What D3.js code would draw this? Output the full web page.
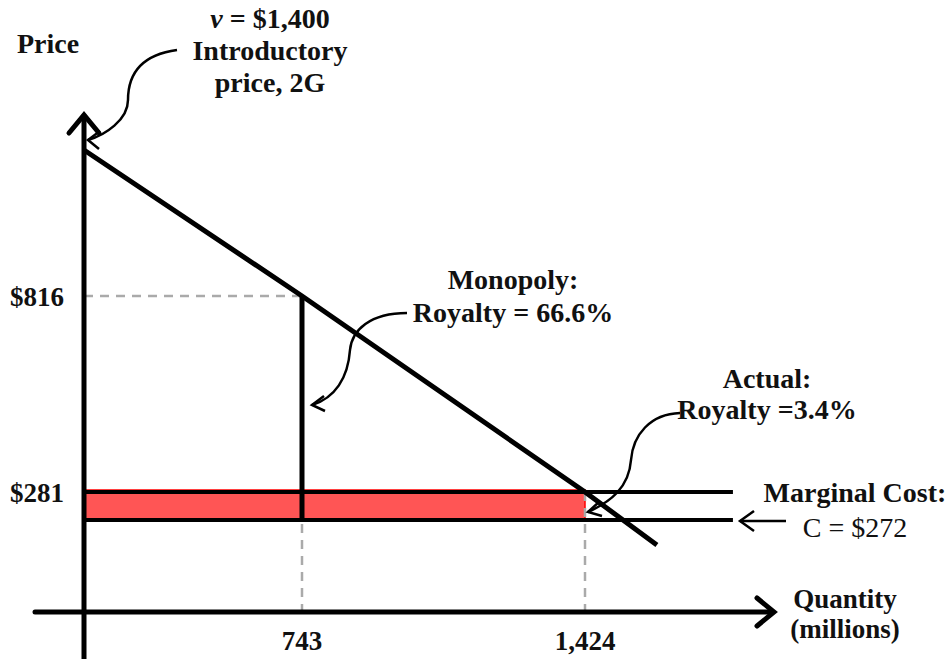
<!DOCTYPE html>
<html>
<head>
<meta charset="utf-8">
<script src="https://cdn.jsdelivr.net/npm/d3@7"></script>
<style>
  body { margin: 0; background: #fff; }
  text { font-family: "Liberation Serif", "DejaVu Serif", serif; fill: #111; }
</style>
</head>
<body>
<div id="chart"></div>
<script>
// chart values
const demandQty = [0, 743, 1424, 1597];
const demandPrice = [1400, 816, 281, 198];
const monopolyQty = 743;
const monopolyPrice = 816;
const actualQty = 1424;
const actualPrice = 281;
const marginalCost = 272;
const costLineEnd = 1780;
const priceTicks = ["$816", "$281"];
const qtyTicks = ["743", "1,424"];

const width = 950, height = 659;

const svg = d3.select("#chart").append("svg")
  .attr("width", width)
  .attr("height", height);

// schematic (piecewise) scales, as in the drawing
const x = d3.scaleLinear()
  .domain([0, monopolyQty, actualQty])
  .range([84, 302, 585]);
const y = d3.scaleLinear()
  .domain([0, marginalCost, actualPrice, monopolyPrice, 1400])
  .range([612, 520, 492, 296, 150]);

// royalty band
svg.append("rect")
  .attr("x", x(0))
  .attr("y", y(actualPrice) - 2)
  .attr("width", x(actualQty) - x(0))
  .attr("height", y(marginalCost) - y(actualPrice) + 2)
  .attr("fill", "#ff5555")
  .attr("stroke", "#ff0000")
  .attr("stroke-width", 1.5);

// dashed guides
const dash = svg.append("g")
  .attr("stroke", "#aaa")
  .attr("stroke-width", 2.5)
  .attr("stroke-dasharray", "9,7")
  .attr("fill", "none");
dash.append("line")
  .attr("x1", x(0)).attr("x2", x(monopolyQty))
  .attr("y1", y(monopolyPrice)).attr("y2", y(monopolyPrice));
dash.append("line")
  .attr("x1", x(monopolyQty)).attr("x2", x(monopolyQty))
  .attr("y1", y(marginalCost) + 4).attr("y2", y(0));
dash.append("line")
  .attr("x1", x(actualQty)).attr("x2", x(actualQty))
  .attr("y1", y(actualPrice)).attr("y2", y(0));

// price and cost lines
svg.append("line")
  .attr("x1", x(0)).attr("x2", x(costLineEnd))
  .attr("y1", y(actualPrice)).attr("y2", y(actualPrice))
  .attr("stroke", "#000").attr("stroke-width", 4);
svg.append("line")
  .attr("x1", x(0)).attr("x2", x(costLineEnd))
  .attr("y1", y(marginalCost)).attr("y2", y(marginalCost))
  .attr("stroke", "#000").attr("stroke-width", 4);

// monopoly quantity
svg.append("line")
  .attr("x1", x(monopolyQty)).attr("x2", x(monopolyQty))
  .attr("y1", y(monopolyPrice)).attr("y2", y(marginalCost) - 2)
  .attr("stroke", "#000").attr("stroke-width", 5);

// demand
const demand = demandQty.map((q, i) => ({ q, p: demandPrice[i] }));
svg.append("path")
  .datum(demand)
  .attr("fill", "none")
  .attr("stroke", "#000")
  .attr("stroke-width", 5)
  .attr("d", d3.line().x(d => x(d.q)).y(d => y(d.p)));

// axes
const axis = svg.append("g")
  .attr("stroke", "#000")
  .attr("fill", "none")
  .attr("stroke-width", 5)
  .attr("stroke-linecap", "round");
axis.append("line")
  .attr("x1", x(0)).attr("x2", x(0))
  .attr("y1", 116).attr("y2", height);
axis.append("path")
  .attr("d", `M${x(0) - 15},${133} L${x(0)},${115} L${x(0) + 15},${133}`);
axis.append("line")
  .attr("x1", 35).attr("x2", 772)
  .attr("y1", y(0)).attr("y2", y(0));
axis.append("path")
  .attr("d", `M${757},${y(0) - 14} L${774},${y(0)} L${757},${y(0) + 14}`);

// tick labels
const tickFont = 27;
[monopolyPrice, actualPrice].forEach((p, i) => {
  svg.append("text")
    .attr("x", 10).attr("y", y(p) + 10)
    .attr("font-size", tickFont).attr("font-weight", "bold")
    .text(priceTicks[i]);
});
[monopolyQty, actualQty].forEach((q, i) => {
  svg.append("text")
    .attr("x", x(q)).attr("y", 650)
    .attr("text-anchor", "middle")
    .attr("font-size", tickFont).attr("font-weight", "bold")
    .text(qtyTicks[i]);
});

// axis titles
svg.append("text")
  .attr("x", 17).attr("y", 53)
  .attr("font-size", 28).attr("font-weight", "bold")
  .text("Price");
const qt = svg.append("text")
  .attr("font-size", 27).attr("font-weight", "bold").attr("text-anchor", "middle");
qt.append("tspan").attr("x", 845).attr("y", 608).text("Quantity");
qt.append("tspan").attr("x", 845).attr("y", 638).text("(millions)");

// annotations
function block(lines, cx, y0, lh, size, weight) {
  const t = svg.append("text")
    .attr("font-size", size).attr("font-weight", weight || "bold")
    .attr("text-anchor", "middle");
  lines.forEach((l, i) => {
    const ts = t.append("tspan").attr("x", cx).attr("y", y0 + i * lh);
    if (Array.isArray(l)) {
      l.forEach(part => ts.append("tspan").attr("font-style", part.italic ? "italic" : null).text(part.s));
    } else {
      ts.text(l);
    }
  });
  return t;
}
block([[{ s: "v", italic: true }, { s: " = $1,400" }], "Introductory", "price, 2G"], 270, 28, 32, 28);
block(["Monopoly:", "Royalty = 66.6%"], 513, 289, 33, 28);
block(["Actual:", "Royalty =3.4%"], 767, 388, 31, 28);
block(["Marginal Cost:"], 855, 502, 0, 28);
block(["C = $272"], 855, 537, 0, 28, "normal");

// curved callout arrows
const curve = svg.append("g")
  .attr("stroke", "#000").attr("fill", "none").attr("stroke-width", 2.5);
curve.append("path")
  .attr("d", "M177,50 C140,55 128,75 128,100 C128,120 105,135 88,140");
curve.append("path").attr("d", "M100,131 L88,140 L99,149");
curve.append("path")
  .attr("d", "M407,313 C370,313 352,330 350,350 C348,378 335,398 312,405");
curve.append("path").attr("d", "M324,396 L312,405 L325,411");
curve.append("path")
  .attr("d", "M680,413 C650,414 633,435 631,460 C629,488 610,502 588,512");
curve.append("path").attr("d", "M599,502 L588,512 L602,516");
curve.append("path").attr("d", "M786,521 L740,521");
curve.append("path").attr("d", "M754,511 L740,521 L754,531");
</script>
</body>
</html>
